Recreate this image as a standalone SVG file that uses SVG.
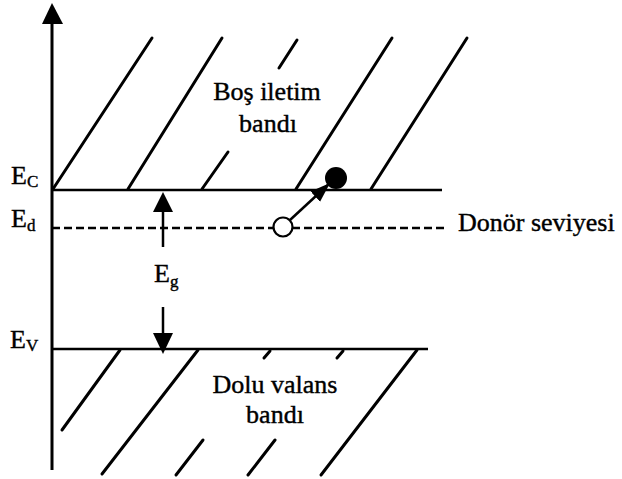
<svg xmlns="http://www.w3.org/2000/svg" width="622" height="479" viewBox="0 0 622 479" font-family="'Liberation Serif', 'Times New Roman', serif">
<style>
.ln{stroke:#000;stroke-width:2.5;fill:none;stroke-linecap:butt}
.h{stroke:#000;stroke-width:3;fill:none;stroke-linecap:round}
text{font-family:'Liberation Serif','Times New Roman',serif;font-size:26px;fill:#000;stroke:#000;stroke-width:0.4}
.s{font-size:17px}
</style>
<defs>
<marker id="ah" markerWidth="20" markerHeight="20" viewBox="0 0 20 20" refX="20" refY="10" orient="auto" markerUnits="userSpaceOnUse">
<path d="M0,3 L20,10 L0,17 Z" fill="#000"/>
</marker>
</defs>
<rect width="622" height="479" fill="#fff"/>
<g id="axis">
<line class="ln" x1="52" y1="470" x2="52" y2="22" style="stroke-width:3"/>
<path d="M52,3 L42,24 L63,24 Z" fill="#000"/>
</g>
<g id="conduction-band">
<line class="ln" x1="52" y1="190" x2="442" y2="190"/>
<line class="h" x1="53" y1="189" x2="152" y2="38"/>
<line class="h" x1="128" y1="189" x2="222" y2="38"/>
<line class="h" x1="297" y1="40" x2="279" y2="68"/>
<line class="h" x1="202" y1="189" x2="228" y2="152"/>
<line class="h" x1="296" y1="189" x2="392" y2="38"/>
<line class="h" x1="371" y1="189" x2="467" y2="38"/>
<text x="267" y="100" text-anchor="middle">Boş iletim</text>
<text x="268" y="132" text-anchor="middle">bandı</text>
</g>
<g id="donor-level">
<line class="ln" x1="52" y1="228" x2="448" y2="228" stroke-dasharray="8,4"/>
<text x="458" y="231">Donör seviyesi</text>
</g>
<g id="valence-band">
<line class="ln" x1="52" y1="349" x2="428" y2="349"/>
<line class="h" x1="120" y1="350" x2="62" y2="430"/>
<line class="h" x1="198" y1="350" x2="102" y2="474"/>
<line class="h" x1="270" y1="351" x2="264" y2="358"/>
<line class="h" x1="203" y1="440" x2="176" y2="475"/>
<line class="h" x1="343" y1="351" x2="337" y2="358"/>
<line class="h" x1="275" y1="440" x2="248" y2="475"/>
<line class="h" x1="417" y1="350" x2="321" y2="475"/>
<text x="275" y="393" text-anchor="middle">Dolu valans</text>
<text x="275" y="423" text-anchor="middle">bandı</text>
</g>
<g id="labels">
<text x="11" y="184">E<tspan class="s" dy="3">C</tspan></text>
<text x="11" y="227">E<tspan class="s" dy="4">d</tspan></text>
<text x="10" y="348">E<tspan class="s" dy="3">V</tspan></text>
<text x="154" y="282">E<tspan class="s" dy="5">g</tspan></text>
</g>
<g id="connectors">
<line class="ln" x1="163" y1="247" x2="163" y2="210"/>
<path d="M163,192 L153,212 L173,212 Z" fill="#000"/>
<line class="ln" x1="163" y1="307" x2="163" y2="335"/>
<path d="M163,354 L153,333 L173,333 Z" fill="#000"/>
<line class="ln" x1="290" y1="220" x2="330" y2="183" marker-end="url(#ah)"/>
</g>
<g id="electron">
<circle cx="336" cy="178" r="11" fill="#000"/>
</g>
<g id="donor">
<circle cx="283" cy="227" r="9.5" fill="#fff" stroke="#000" stroke-width="2.2"/>
</g>
</svg>
